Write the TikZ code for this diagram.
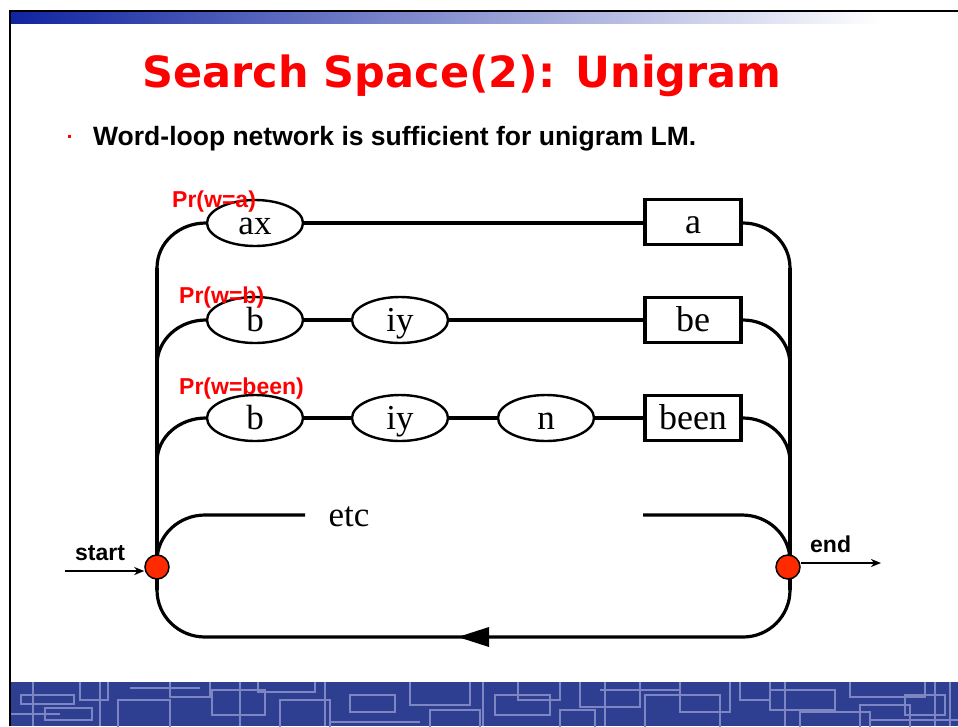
\documentclass[tikz,border=0pt]{standalone}
\usepackage{fontspec}
\setmainfont{Liberation Serif}
\newfontfamily\headfont{DejaVu Sans}
\newfontfamily\labelfont{Liberation Sans}
\usetikzlibrary{shapes.geometric,arrows.meta}
\definecolor{bandblue}{RGB}{46,63,145}
\definecolor{bandline}{RGB}{125,133,195}
\definecolor{barblue}{RGB}{16,36,160}
\definecolor{dotred}{RGB}{255,42,0}
\begin{document}
\begin{tikzpicture}[x=1pt,y=-1pt,
  wire/.style={line width=3.2pt},
  phone/.style={ellipse, draw, line width=2.4pt, fill=white, minimum width=96pt,
    minimum height=46pt, inner sep=0pt, text height=22pt, text depth=0pt,
    font=\fontsize{35}{35}\selectfont},
  word/.style={rectangle, draw, line width=3.8pt, fill=white, minimum width=96pt,
    minimum height=45pt, inner sep=0pt, text height=22pt, text depth=0pt,
    font=\fontsize{36}{36}\selectfont},
  prob/.style={anchor=base west, inner sep=0pt, text=red,
    font=\labelfont\bfseries\fontsize{23}{23}\selectfont},
  tag/.style={anchor=base west, inner sep=0pt,
    font=\labelfont\bfseries\fontsize{23}{23}\selectfont},
  terminal/.style={circle, draw, line width=1.5pt, fill=dotred, minimum size=24pt, inner sep=0pt},
  flow/.style={line width=2pt, -{Stealth[length=10pt,width=8pt,inset=3pt]}}
]
\useasboundingbox (0,0) rectangle (958,726);
\fill[white] (0,0) rectangle (958,726);

% slide frame and header bar
\shade[left color=barblue, right color=white] (10,12) rectangle (882,23);
\draw[line width=2pt] (10,726) -- (10,11) -- (958,11);

% footer band with maze pattern
\begin{scope}
  \clip (11,682) rectangle (958,726);
  \fill[bandblue] (11,682) rectangle (958,726);
  \begin{scope}[draw=bandline, line width=2pt]
    \foreach \xa/\ya/\xb/\yb in {
      21/695/74/704, 45/708/92/720, 80/676/108/700, 118/700/170/730,
      170/676/210/697, 212/690/265/715, 258/676/315/692, 280/700/330/730,
      350/695/395/712, 410/676/470/705, 430/710/480/730, 495/695/550/715,
      518/676/560/700, 580/676/640/707, 560/710/595/730, 645/695/720/730,
      680/676/730/712, 740/676/770/700, 770/690/835/710, 800/712/870/730,
      850/676/925/697, 860/705/910/730, 905/695/945/715}
      \draw (\xa,\ya) rectangle (\xb,\yb);
    \foreach \xv in {33,100,240,325,483,605,785,935,950}
      \draw (\xv,682) -- (\xv,726);
    \foreach \xa/\xb/\yh in {11/60/714, 130/200/688, 330/420/722, 600/680/690, 870/958/720}
      \draw (\xa,\yh) -- (\xb,\yh);
  \end{scope}
\end{scope}

% title and bullet
\node[anchor=base, inner sep=0pt, text=red, font=\headfont\bfseries\fontsize{43}{43}\selectfont]
  (title) at (462,87) {Search Space(2): Unigram};
\fill[red] (68,135) rectangle (70.5,137.5);
\node[tag, font=\labelfont\bfseries\fontsize{26.5}{26.5}\selectfont] (bullet) at (93,145)
  {Word-loop network is sufficient for unigram LM.};

% junction points on the two rails
\coordinate (l1) at (157,268);
\coordinate (l2) at (157,365);
\coordinate (l3) at (157,462);
\coordinate (l4) at (157,561);
\coordinate (lb) at (157,590);
\coordinate (r1) at (790,268);
\coordinate (r2) at (790,365);
\coordinate (r3) at (790,462);
\coordinate (r4) at (790,561);
\coordinate (rb) at (790,590);
\coordinate (e1) at (205,515);
\coordinate (e2) at (305,515);
\coordinate (e3) at (643,515);
\coordinate (e4) at (742,515);
\coordinate (bl) at (205,637);
\coordinate (br) at (743,637);
\coordinate (sin) at (65,571);
\coordinate (eout) at (881,563);

% rails and return loop
\draw[wire, line width=3.5pt] (l1) -- (lb);
\draw[wire, line width=3.5pt] (r1) -- (rb);
\draw[wire] (lb) to[out=-90,in=180] (bl) -- (br) to[out=0,in=-90] (rb);
\fill (458,637) -- (489,627) -- (489,647) -- cycle;

% word "a"
\node[phone] (ax) at (255,223) {ax};
\node[word] (a) at (693,222) {a};
% word "be"
\node[phone] (b1) at (255,320) {b};
\node[phone] (iy1) at (400,320) {iy};
\node[word] (be) at (693,320) {be};
% word "been"
\node[phone] (b2) at (255,418) {b};
\node[phone] (iy2) at (400,418) {iy};
\node[phone] (n2) at (546,418) {n};
\node[word] (been) at (693,418) {been};

\draw[wire] (ax) -- (a.west |- ax);
\draw[wire] (b1) -- (iy1);
\draw[wire] (iy1) -- (be);
\draw[wire] (b2) -- (iy2);
\draw[wire] (iy2) -- (n2);
\draw[wire] (n2) -- (been);

\draw[wire] (ax.west) to[out=180,in=90] (l1);
\draw[wire] (b1.west) to[out=180,in=90] (l2);
\draw[wire] (b2.west) to[out=180,in=90] (l3);
\draw[wire] (a.east |- ax) to[out=0,in=90] (r1);
\draw[wire] (be.east) to[out=0,in=90] (r2);
\draw[wire] (been.east) to[out=0,in=90] (r3);

% the "etc" branch
\draw[wire] (l4) to[out=90,in=180] (e1) -- (e2);
\draw[wire] (e3) -- (e4) to[out=0,in=90] (r4);
\node[anchor=base, inner sep=0pt, font=\fontsize{35}{35}\selectfont] (etc) at (349,526) {etc};

% probabilities
\node[prob] (pa) at (172,207) {Pr(w=a)};
\node[prob] (pb) at (179,303) {Pr(w=b)};
\node[prob] (pbeen) at (179,394) {Pr(w=been)};

% start and end states
\node[terminal] (start) at (157,567) {};
\node[terminal] (end) at (788,567) {};
\draw[flow] (sin) -- (sin -| start.west);
\draw[flow] (eout -| end.east) -- (eout);
\node[tag] (startlbl) at (75,560) {start};
\node[tag] (endlbl) at (810,552) {end};
\end{tikzpicture}
\end{document}
